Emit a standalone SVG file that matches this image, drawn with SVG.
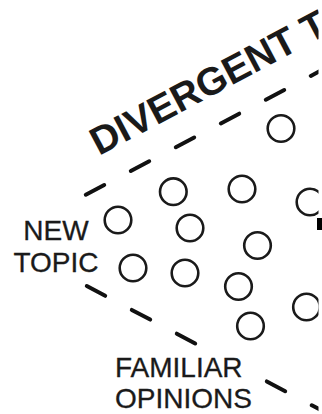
<svg xmlns="http://www.w3.org/2000/svg" width="322" height="414" viewBox="0 0 322 414">
  <style>
    .dash { stroke: #111; stroke-width: 4; stroke-linecap: round; fill: none; }
    .node circle { fill: none; stroke: #1a1a1a; stroke-width: 2.6; }
    .title { font-family: "Liberation Sans", Arial, sans-serif; font-weight: bold; font-size: 39px; fill: #1a1a1a; }
    .label { font-family: "Liberation Sans", Arial, sans-serif; font-size: 28px; fill: #1a1a1a; stroke: #1a1a1a; stroke-width: 0.3; }
  </style>
  <defs>
    <clipPath id="crop"><rect x="0" y="0" width="318.5" height="414"/></clipPath>
  </defs>
  <rect width="322" height="414" fill="#fff"/>
  <g clip-path="url(#crop)">
    <text id="title" class="title" transform="translate(99,156) rotate(-28)">DIVERGENT T</text>
    <g id="connectors">
      <line class="dash" x1="85.8" y1="194.7" x2="104.2" y2="185.0"/>
      <line class="dash" x1="130.8" y1="171.0" x2="149.2" y2="161.3"/>
      <line class="dash" x1="175.8" y1="147.2" x2="194.2" y2="137.5"/>
      <line class="dash" x1="220.8" y1="123.4" x2="239.2" y2="113.7"/>
      <line class="dash" x1="265.8" y1="99.7" x2="284.2" y2="90.0"/>
      <line class="dash" x1="310.8" y1="75.9" x2="329.2" y2="66.2"/>
      <line class="dash" x1="86.8" y1="286.0" x2="105.2" y2="295.8"/>
      <line class="dash" x1="131.8" y1="309.9" x2="150.2" y2="319.6"/>
      <line class="dash" x1="176.8" y1="333.7" x2="195.2" y2="343.5"/>
      <line class="dash" x1="266.8" y1="381.4" x2="285.2" y2="391.2"/>
      <line class="dash" x1="311.8" y1="405.3" x2="330.2" y2="415.0"/>
    </g>
    <g id="n1" class="node"><circle cx="281" cy="128.5" r="13.3"/></g>
    <g id="n2" class="node"><circle cx="173.3" cy="191.7" r="13.3"/></g>
    <g id="n3" class="node"><circle cx="242" cy="189" r="13.3"/></g>
    <g id="n4" class="node"><circle cx="310" cy="202" r="13.3"/></g>
    <g id="n5" class="node"><circle cx="118" cy="220" r="13.3"/></g>
    <g id="n6" class="node"><circle cx="190" cy="228" r="13.3"/></g>
    <g id="n7" class="node"><circle cx="257.5" cy="245.5" r="13.3"/></g>
    <g id="n8" class="node"><circle cx="133" cy="268" r="13.3"/></g>
    <g id="n9" class="node"><circle cx="185" cy="273" r="13.3"/></g>
    <g id="n10" class="node"><circle cx="238.5" cy="286.5" r="13.3"/></g>
    <g id="n11" class="node"><circle cx="250.5" cy="326" r="13.3"/></g>
    <g id="n12" class="node"><circle cx="306.5" cy="307" r="13.3"/></g>
    <g id="new-topic">
      <text class="label" x="56" y="240" text-anchor="middle">NEW</text>
      <text class="label" x="56" y="272" text-anchor="middle">TOPIC</text>
    </g>
    <g id="familiar-opinions">
      <text class="label" x="115" y="377">FAMILIAR</text>
      <text class="label" x="115" y="408">OPINIONS</text>
    </g>
  </g>
  <rect x="317" y="218" width="5" height="12" fill="#000"/>
</svg>
